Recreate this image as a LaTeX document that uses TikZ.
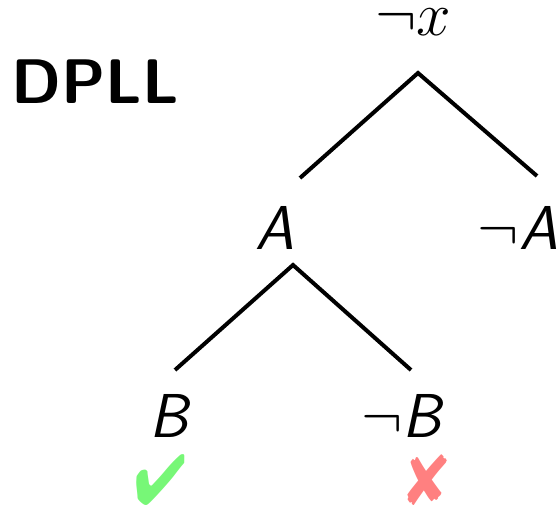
\RequirePackage{fix-cm}
\documentclass[tikz,border=0pt]{standalone}
\usepackage{fontspec}
\usepackage{pifont}
\usepackage{graphicx}
\definecolor{okgreen}{RGB}{119,247,119}
\definecolor{badred}{RGB}{255,128,128}
\begin{document}
\begin{tikzpicture}[x=0.5pt,y=-0.5pt,
  lbl/.style={font=\fontsize{31}{37}\selectfont, inner sep=0pt, anchor=base},
  verdict/.style={font=\fontsize{31}{37}\selectfont, inner sep=0pt, anchor=base},
  edge/.style={line width=2pt}]
\useasboundingbox (0,0) rectangle (560,508);
\node[lbl, font=\fontsize{31.5}{37}\selectfont\sffamily\bfseries, anchor=base west] (title) at (11,103) {DPLL};
\node[lbl] (nx) at (413,36) {$\neg x$};
\node[lbl] (A) at (275,249) {\textsf{\textit{A}}};
\node[lbl] (nA) at (518,249) {$\neg$\textsf{\textit{A}}};
\node[lbl] (B) at (170,437) {\textsf{\textit{B}}};
\node[lbl] (nB) at (403,437) {$\neg$\textsf{\textit{B}}};
\node[verdict, text=okgreen] (ok) at (161,504) {\scalebox{1}[1.14]{\ding{52}}};
\node[verdict, text=badred] (bad) at (428,504) {\scalebox{1.05}[1.14]{\ding{56}}};
\coordinate (r0) at (418,73);
\coordinate (r1) at (300,178);
\coordinate (r2) at (537,176);
\coordinate (s0) at (293,265);
\coordinate (s1) at (175,370);
\coordinate (s2) at (411,370);
\draw[edge] (r1) -- (r0) -- (r2);
\draw[edge] (s1) -- (s0) -- (s2);
\end{tikzpicture}
\end{document}
